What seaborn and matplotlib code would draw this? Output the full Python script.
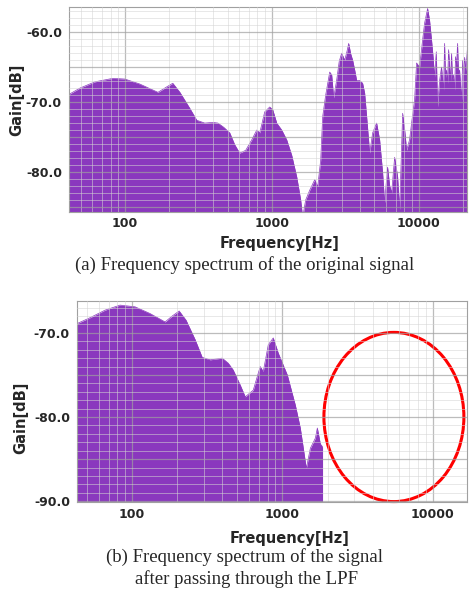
import matplotlib
matplotlib.use("Agg")
import matplotlib.pyplot as plt
from matplotlib.patches import Ellipse
from matplotlib.ticker import FixedLocator, LogLocator, MultipleLocator, FuncFormatter, NullFormatter
import seaborn as sns

# (a) original signal spectrum
freq_a = [41.6, 49.4, 62.5, 82.8, 100, 126, 168, 190, 212, 237, 277, 309, 350, 397, 430, 471,
          518, 560, 605, 665, 731, 791, 829, 896, 969, 1016, 1082, 1170, 1265, 1368, 1480, 1575,
          1624, 1703, 1815, 1963, 2057, 2155, 2223, 2330, 2482, 2561, 2642, 2767, 2880, 2993,
          3139, 3250, 3342, 3450, 3557, 3680, 3787, 3970, 4158, 4293, 4430, 4645, 4867, 5180,
          5430, 5690, 5870, 6150, 6350, 6550, 6870, 7200, 7430, 7790, 8040, 8290, 8680, 8960,
          9390, 9690, 10160, 10650, 10990, 11520, 11880, 12250, 12550, 12840, 13200, 13460,
          13900, 14330, 14790, 15030, 15250, 15500, 15750, 16000, 16250, 16500, 16760, 17000,
          17300, 17580, 17850, 18140, 18420, 18700, 19010, 19300, 19620, 19950, 20250, 20570,
          21000, 21540, 22220]
gain_a = [-68.9, -68.0, -67.1, -66.6, -66.7, -67.4, -68.6, -67.9, -67.3, -68.6, -70.9, -72.6,
          -73.0, -72.9, -73.0, -73.6, -74.4, -76.1, -77.3, -76.9, -75.4, -74.0, -74.4, -71.4,
          -70.7, -71.1, -73.0, -74.0, -75.4, -77.6, -80.7, -84.0, -86.5, -84.0, -82.6, -81.1,
          -82.1, -78.3, -72.1, -69.0, -65.7, -66.1, -69.4, -66.9, -64.2, -63.0, -64.0, -62.8,
          -61.6, -63.1, -64.0, -65.5, -66.9, -66.9, -67.3, -68.7, -72.1, -77.3, -74.4, -73.0,
          -75.4, -80.1, -84.4, -79.3, -81.9, -83.0, -77.9, -80.7, -85.4, -71.6, -74.0, -76.9,
          -75.4, -73.0, -69.7, -64.4, -65.0, -61.1, -58.7, -56.6, -58.3, -61.1, -63.5, -66.4,
          -62.8, -70.7, -66.9, -65.0, -68.3, -61.6, -66.5, -65.4, -67.3, -62.5, -64.7, -67.0,
          -63.0, -66.8, -66.1, -68.3, -63.5, -64.7, -61.6, -66.0, -65.4, -67.5, -69.7, -64.0,
          -66.1, -63.6, -65.5, -62.1, -63.3]

# (b) after the LPF
freq_b = [43.0, 52.5, 66.1, 83.2, 104.7, 131.8, 166, 185, 206, 229, 263, 293, 331, 398, 437,
          471, 525, 567, 641, 713, 747, 807, 871, 940, 1080, 1222, 1318, 1445, 1538, 1660, 1711,
          1792, 1848]
gain_b = [-68.9, -68.2, -67.3, -66.7, -66.9, -67.7, -68.7, -68.0, -67.4, -68.5, -70.8, -72.9,
          -73.2, -73.0, -73.6, -74.4, -76.2, -77.6, -76.8, -74.0, -74.6, -71.4, -70.6, -72.4,
          -75.0, -78.6, -81.3, -86.1, -83.7, -82.5, -81.3, -83.2, -83.5]

x_ticks = [100, 1000, 10000]
yticks_a = [-80, -70, -60]
yticks_b = [-90, -80, -70]

purple = "#8a38be"

sns.set_style("white")
plt.rcParams['font.family'] = ['DejaVu Sans']

fig = plt.figure(figsize=(4.72, 5.90), dpi=100)
ax_a = fig.add_axes([0.146, 0.641, 0.843, 0.347])
ax_b = fig.add_axes([0.163, 0.149, 0.826, 0.341])


def style(ax, xlim, ylim, labelled):
    ax.set_xscale("log")
    ax.set_xlim(*xlim)
    ax.set_ylim(*ylim)
    ax.xaxis.set_major_locator(FixedLocator(x_ticks))
    ax.xaxis.set_major_formatter(FuncFormatter(lambda v, p: f"{v:.0f}"))
    ax.xaxis.set_minor_locator(LogLocator(base=10, subs=range(2, 10)))
    ax.xaxis.set_minor_formatter(NullFormatter())
    ax.yaxis.set_major_locator(MultipleLocator(5))
    ax.yaxis.set_major_formatter(FuncFormatter(lambda v, p: f"{v:.1f}" if round(v) in labelled else ""))
    ax.yaxis.set_minor_locator(MultipleLocator(1))
    ax.grid(which="major", color="#a0a0a0", lw=0.9, alpha=0.7)
    ax.grid(which="minor", color="#d4d4d4", lw=0.7, alpha=0.55)
    ax.set_axisbelow(False)
    ax.tick_params(which="both", length=0)
    ax.tick_params(axis="y", pad=5)
    ax.tick_params(axis="x", pad=4)
    for lab in ax.get_xticklabels() + ax.get_yticklabels():
        lab.set_fontweight("bold")
        lab.set_fontsize(9)
    for s in ax.spines.values():
        s.set_color("#a0a0a0")
        s.set_linewidth(0.8)
    ax.set_xlabel("")
    ax.set_ylabel("")


sns.lineplot(x=freq_a, y=gain_a, ax=ax_a, color=purple, lw=0.5)
ax_a.fill_between(freq_a, gain_a, -100, color=purple, lw=0)
style(ax_a, (41.6, 21300), (-85.7, -56.4), yticks_a)

sns.lineplot(x=freq_b, y=gain_b, ax=ax_b, color=purple, lw=0.5)
ax_b.fill_between(freq_b, gain_b, -100, color=purple, lw=0)
ax_b.vlines(freq_b[-1], -100, gain_b[-1], color=purple, lw=0.8)
style(ax_b, (43.0, 16900), (-90.1, -66.2), yticks_b)

ax_b.add_patch(Ellipse((0.813, 0.423), 0.359, 0.841, transform=ax_b.transAxes,
                       fill=False, ec="red", lw=2.2, clip_on=False))

fig.text(17 / 472, 1 - 100 / 590, "Gain[dB]", rotation=90, ha="center", va="center",
         fontsize=10.5, fontweight="bold")
fig.text(21 / 472, 1 - 418 / 590, "Gain[dB]", rotation=90, ha="center", va="center",
         fontsize=10.5, fontweight="bold")
fig.text(280 / 472, 1 - 243 / 590, "Frequency[Hz]", ha="center", va="center",
         fontsize=10.5, fontweight="bold")
fig.text(290 / 472, 1 - 538 / 590, "Frequency[Hz]", ha="center", va="center",
         fontsize=10.5, fontweight="bold")

fig.text(245 / 472, 1 - 265 / 590, "(a) Frequency spectrum of the original signal",
         ha="center", va="center", fontsize=13.5, family=["Liberation Serif"])
fig.text(245 / 472, 1 - 557 / 590, "(b) Frequency spectrum of the signal",
         ha="center", va="center", fontsize=13.5, family=["Liberation Serif"])
fig.text(246 / 472, 1 - 579 / 590, "after passing through the LPF",
         ha="center", va="center", fontsize=13.5, family=["Liberation Serif"])

fig.savefig("out.png", dpi=100)
